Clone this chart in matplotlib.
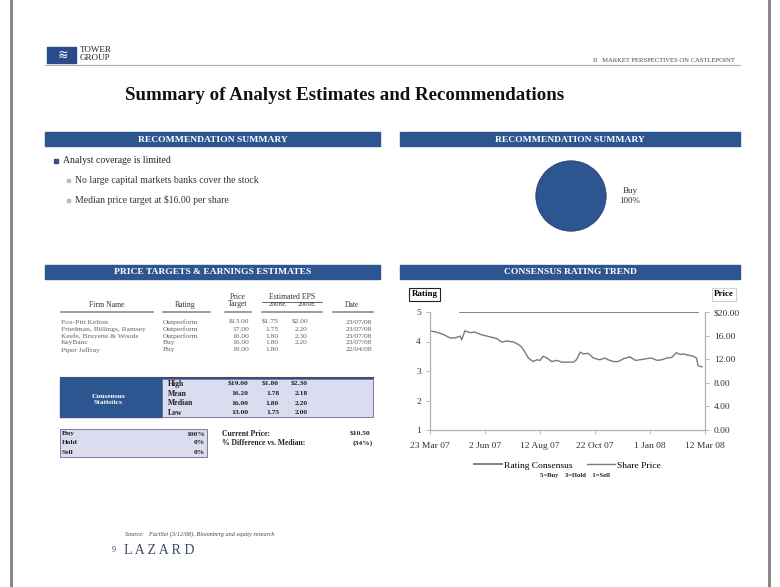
import pandas as pd
from matplotlib import pyplot as plt
from matplotlib.patches import Rectangle

plt.rcParams['font.family'] = ['Liberation Serif', 'DejaVu Serif']

# share price (right axis) and consensus rating (left axis)
price_dates = ['2007-03-23', '2007-03-31', '2007-04-09', '2007-04-18', '2007-04-24', '2007-05-01',
               '2007-05-03', '2007-05-07', '2007-05-14', '2007-05-20', '2007-05-27', '2007-06-02',
               '2007-06-08', '2007-06-17', '2007-06-24', '2007-06-30', '2007-07-09', '2007-07-15',
               '2007-07-19', '2007-07-24', '2007-07-28', '2007-08-03', '2007-08-08', '2007-08-12',
               '2007-08-16', '2007-08-21', '2007-08-27', '2007-09-03', '2007-09-09', '2007-09-15',
               '2007-09-24', '2007-09-28', '2007-10-03', '2007-10-07', '2007-10-13', '2007-10-20',
               '2007-10-28', '2007-11-04', '2007-11-08', '2007-11-15', '2007-11-21', '2007-11-28',
               '2007-12-06', '2007-12-13', '2007-12-19', '2007-12-28', '2008-01-03', '2008-01-10',
               '2008-01-16', '2008-01-23', '2008-01-29', '2008-02-04', '2008-02-09', '2008-02-13',
               '2008-02-19', '2008-02-26', '2008-03-01', '2008-03-03', '2008-03-08']
share_price = [16.8, 16.6, 16.2, 15.6, 15.6, 15.9, 15.3, 16.8, 16.5, 16.6, 16.2, 16.0,
               15.8, 15.5, 14.9, 15.1, 14.9, 14.5, 14.1, 13.1, 12.2, 11.6, 11.9, 11.8,
               12.5, 12.2, 11.6, 11.8, 11.5, 11.5, 11.5, 11.9, 13.2, 12.9, 13.0, 12.2,
               11.9, 12.2, 11.9, 11.6, 11.6, 12.1, 12.4, 11.8, 11.9, 12.1, 12.2, 11.8,
               11.9, 12.2, 12.3, 13.1, 12.8, 12.9, 12.7, 12.5, 12.2, 10.9, 10.7]
rating_dates = ['2007-05-01', '2008-03-03']
rating_consensus = [5, 5]
tick_dates = ['2007-03-23', '2007-06-02', '2007-08-12', '2007-10-22', '2008-01-01', '2008-03-12']
tick_labels = ['23 Mar 07', '2 Jun 07', '12 Aug 07', '22 Oct 07', '1 Jan 08', '12 Mar 08']

# recommendation split
rec_labels = ['Buy', 'Hold', 'Sell']
rec_pcts = [100, 0, 0]

# analyst table
firms = ['Fox-Pitt Kelton', 'Friedman, Billings, Ramsey', 'Keefe, Bruyette & Woods', 'KeyBanc', 'Piper Jaffray']
ratings = ['Outperform', 'Outperform', 'Outperform', 'Buy', 'Buy']
price_targets = ['$13.00', '17.00', '16.00', '16.00', '19.00']
eps_2008 = ['$1.75', '1.75', '1.80', '1.80', '1.80']
eps_2009 = ['$2.00', '2.20', '2.30', '2.20', '']
report_dates = ['23/07/08', '23/07/08', '23/07/08', '23/07/08', '22/04/08']
stat_labels = ['High', 'Mean', 'Median', 'Low']
stat_price = ['$19.00', '16.20', '16.00', '13.00']
stat_2008 = ['$1.80', '1.78', '1.80', '1.75']
stat_2009 = ['$2.30', '2.18', '2.20', '2.00']
current_price = '$10.50'
pct_vs_median = '(34%)'

BLUE = '#2d5590'
LAV = '#dcdcf0'
W, H = 780, 587

fig = plt.figure(figsize=(7.8, 5.87), dpi=100)
bg = fig.add_axes([0, 0, 1, 1], zorder=0)
bg.set_xlim(0, W)
bg.set_ylim(H, 0)
bg.axis('off')

# page frame and header
bg.plot([11, 11], [0, H], color='#808080', lw=2)
bg.plot([769, 769], [0, H], color='#808080', lw=2)
bg.add_patch(Rectangle((47, 47), 29, 16, color='#2a4a8c'))
bg.text(63, 55, '≋', color='white', fontsize=9, ha='center', va='center', family='DejaVu Sans')
bg.text(80, 50, 'TOWER', fontsize=6.5, va='center', color='#222222')
bg.text(80, 58.5, 'GROUP', fontsize=6.5, va='center', color='#222222')
bg.plot([45, 740], [65, 65], color='#b0b0b0', lw=0.8)
bg.text(735, 60, 'II   MARKET PERSPECTIVES ON CASTLEPOINT', fontsize=4.8, ha='right', va='center', color='#444444')
bg.text(125, 95, 'Summary of Analyst Estimates and Recommendations', fontsize=13.6,
        fontweight='bold', va='center', color='#111111')

# section header bars
for x0, x1, y0, title in [(45, 380, 132, 'RECOMMENDATION SUMMARY'), (400, 740, 132, 'RECOMMENDATION SUMMARY'),
                          (45, 380, 265, 'PRICE TARGETS & EARNINGS ESTIMATES'), (400, 740, 265, 'CONSENSUS RATING TREND')]:
    bg.add_patch(Rectangle((x0, y0), x1 - x0, 14, color=BLUE))
    bg.text((x0 + x1) / 2, y0 + 7.5, title, color='white', fontsize=6.8, fontweight='bold', ha='center', va='center')

# bullets
bg.add_patch(Rectangle((53.5, 158.5), 4, 4, color='#3a4e7a'))
bg.text(63, 160.5, 'Analyst coverage is limited', fontsize=7, va='center', color='#222222')
for y, s in [(180.5, 'No large capital markets banks cover the stock'), (200, 'Median price target at $16.00 per share')]:
    bg.add_patch(Rectangle((67, y - 1.5), 3, 3, color='#b8b8c8'))
    bg.text(75, y, s, fontsize=7, va='center', color='#333333')

# analyst table
hc = '#333333'
fs = 5.4
bg.text(238, 297, 'Price', fontsize=5.6, ha='center', va='center', color=hc)
bg.text(238, 304.5, 'Target', fontsize=5.6, ha='center', va='center', color=hc)
bg.text(292, 297, 'Estimated EPS', fontsize=5.6, ha='center', va='center', color=hc)
bg.plot([262, 322], [301.5, 301.5], color='#555555', lw=0.6)
bg.text(278, 305, '2008E', fontsize=5, ha='center', va='center', color=hc)
bg.text(307, 305, '2009E', fontsize=5, ha='center', va='center', color=hc)
bg.text(107, 305, 'Firm Name', fontsize=5.6, ha='center', va='center', color=hc)
bg.text(185, 305, 'Rating', fontsize=5.6, ha='center', va='center', color=hc)
bg.text(352, 305, 'Date', fontsize=5.6, ha='center', va='center', color=hc)
for a, b in [(61, 153), (163, 210), (225, 251), (262, 322), (333, 373)]:
    bg.plot([a, b], [311.5, 311.5], color='#8a8a9a', lw=1.2)
for i in range(len(firms)):
    y = 322.5 + i * 6.8
    bg.text(61, y, firms[i], fontsize=fs, va='center', color='#606060')
    bg.text(163, y, ratings[i], fontsize=fs, va='center', color='#606060')
    bg.text(249, y, price_targets[i], fontsize=fs, ha='right', va='center', color='#606060')
    bg.text(279, y, eps_2008[i], fontsize=fs, ha='right', va='center', color='#606060')
    bg.text(308, y, eps_2009[i], fontsize=fs, ha='right', va='center', color='#606060')
    bg.text(372, y, report_dates[i], fontsize=fs, ha='right', va='center', color='#606060')
bg.plot([61, 373], [378, 378], color='#3a4e7a', lw=1.5)

# consensus statistics block
bg.add_patch(Rectangle((60, 379), 102, 38, color=BLUE))
bg.add_patch(Rectangle((162, 379), 211, 38, facecolor=LAV, edgecolor='#6a6a8a', lw=0.6))
bg.text(108, 399.5, 'Consensus\nStatistics', color='white', fontsize=5.4, fontweight='bold',
        ha='center', va='center', linespacing=1.4)
for i in range(len(stat_labels)):
    y = 384 + i * 9.6
    bg.text(168, y, stat_labels[i], fontsize=5.6, fontweight='bold', va='center', color='#222222')
    bg.text(248, y, stat_price[i], fontsize=5.4, fontweight='bold', ha='right', va='center', color='#222222')
    bg.text(279, y, stat_2008[i], fontsize=5.4, fontweight='bold', ha='right', va='center', color='#222222')
    bg.text(308, y, stat_2009[i], fontsize=5.4, fontweight='bold', ha='right', va='center', color='#222222')

bg.add_patch(Rectangle((60, 429), 147, 28, facecolor=LAV, edgecolor='#6a6a8a', lw=0.6))
for i in range(len(rec_labels)):
    y = 434 + i * 9
    bg.text(62, y, rec_labels[i], fontsize=5.4, fontweight='bold', va='center', color='#222222')
    bg.text(205, y, f'{rec_pcts[i]}%', fontsize=5.4, fontweight='bold', ha='right', va='center', color='#222222')
bg.text(222, 434, 'Current Price:', fontsize=5.5, fontweight='bold', va='center', color='#222222')
bg.text(222, 443, '% Difference vs. Median:', fontsize=5.5, fontweight='bold', va='center', color='#222222')
bg.text(370, 434, current_price, fontsize=5.4, fontweight='bold', ha='right', va='center', color='#222222')
bg.text(373, 443, pct_vs_median, fontsize=5.4, fontweight='bold', ha='right', va='center', color='#222222')

# footer
bg.text(125, 534, 'Source:   FactSet (3/12/08), Bloomberg and equity research', fontsize=4.5,
        style='italic', va='center', color='#444444')
bg.text(112, 550, '9', fontsize=6, va='center', color='#3c4a6a')
bg.text(124, 551, 'L A Z A R D', fontsize=10, va='center', color='#3c4a6a')

# pie
pie_ax = fig.add_axes([527 / W, 1 - 240 / H, 88 / W, 88 / H])
vals = [p for p in rec_pcts if p > 0]
labs = [f'{l}\n{p}%' for l, p in zip(rec_labels, rec_pcts) if p > 0]
pie_ax.pie(vals, labels=labs, colors=[BLUE], startangle=180, labeldistance=1.38,
           wedgeprops=dict(edgecolor='#1e3a66', linewidth=0.5),
           textprops=dict(fontsize=6.5, color='#333333', multialignment='center'))
pie_ax.set_aspect('equal')

# consensus rating trend
ax = fig.add_axes([430 / W, 1 - 430 / H, 275 / W, 118 / H])
ax2 = ax.twinx()
l1, = ax.plot(pd.to_datetime(rating_dates), rating_consensus, color='#5f6f85', lw=1.2, label='Rating Consensus')
l2, = ax2.plot(pd.to_datetime(price_dates), share_price, color='#7a7a7a', lw=1.0, label='Share Price')
ax.set_xlim(pd.Timestamp(tick_dates[0]), pd.Timestamp(tick_dates[-1]))
ax.set_ylim(1, 5)
ax2.set_ylim(0, 20)
ax.set_yticks([1, 2, 3, 4, 5])
ax2.set_yticks([0, 4, 8, 12, 16, 20])
ax2.set_yticklabels(['0.00', '4.00', '8.00', '12.00', '16.00', '$20.00'])
ax.set_xticks(pd.to_datetime(tick_dates))
ax.set_xticklabels(tick_labels)
for a in (ax, ax2):
    a.set_facecolor('none')
    a.spines['top'].set_visible(False)
    for s in ('left', 'right', 'bottom'):
        a.spines[s].set_color('#b0b0b0')
    a.tick_params(colors='#b0b0b0', labelcolor='#333333', labelsize=6.8, length=3, width=0.6)
ax.tick_params(axis='x', pad=6)
ax.text(-0.02, 1.15, 'Rating', transform=ax.transAxes, fontsize=6.5, fontweight='bold', ha='center', va='center',
        bbox=dict(boxstyle='square,pad=0.25', facecolor='white', edgecolor='#222222', lw=0.8))
ax.text(1.07, 1.15, 'Price', transform=ax.transAxes, fontsize=6.5, fontweight='bold', ha='center', va='center',
        bbox=dict(boxstyle='square,pad=0.25', facecolor='white', edgecolor='#d0d0d0', lw=0.8))
ax.legend(handles=[l1, l2], loc='upper center', bbox_to_anchor=(0.5, -0.19), ncol=2, frameon=False,
          fontsize=6.8, handlelength=3, handletextpad=0.2, columnspacing=1.5)
bg.text(575, 476, '5=Buy    3=Hold    1=Sell', fontsize=4.8, fontweight='bold', ha='center', va='center', color='#222222')

plt.savefig('out.png', dpi=100)
